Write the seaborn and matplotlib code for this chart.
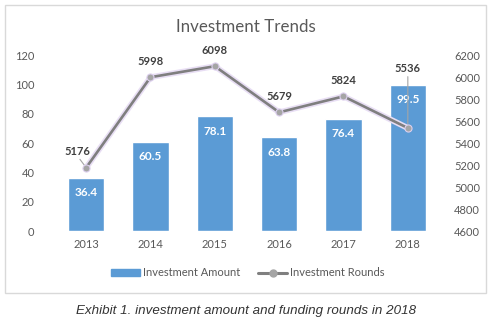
import matplotlib
matplotlib.use("Agg")
import matplotlib.pyplot as plt
import matplotlib.patheffects as pe
from matplotlib.patches import Rectangle
from matplotlib.lines import Line2D
import seaborn as sns
import pandas as pd

years = ["2013", "2014", "2015", "2016", "2017", "2018"]
amount = [36.4, 60.5, 78.1, 63.8, 76.4, 99.5]
rounds = [5176, 5998, 6098, 5679, 5824, 5536]
left_ticks = [0, 20, 40, 60, 80, 100, 120]
right_ticks = [4600, 4800, 5000, 5200, 5400, 5600, 5800, 6000, 6200]

sns.set_theme(style="white")
plt.rcParams['font.family'] = ['Lato', 'DejaVu Sans']

df = pd.DataFrame({"year": years, "amount": amount, "rounds": rounds})

fig = plt.figure(figsize=(4.91, 3.24), dpi=100)
fig.patches.append(Rectangle((5/491, 1-293/324), 481/491, 288/324, transform=fig.transFigure,
                             fill=False, edgecolor="#d9d9d9", linewidth=1.0))

ax = fig.add_axes([54/491, 1-231/324, 386/491, 176/324])
bar_c = "#5b9bd5"
sns.barplot(data=df, x="year", y="amount", color=bar_c, width=0.56, ax=ax, saturation=1)
ax.set_ylim(0, 120)
ax.set_yticks(left_ticks)
ax.set_xlim(-0.5, 5.5)
ax.set_xlabel("")
ax.set_ylabel("")
for s in ax.spines.values():
    s.set_visible(False)
ax.tick_params(axis="both", colors="#595959", labelsize=8, length=0)
ax.tick_params(axis="y", pad=14)
ax.tick_params(axis="x", pad=6)
for i, v in enumerate(amount):
    ax.annotate(f"{v}", (i, v), xytext=(0, -10.5), textcoords="offset points",
                ha="center", va="center", color="white", fontsize=8.5, fontweight="bold")

ax2 = ax.twinx()
line_c = "#7f7f7f"
mark_c = "#a5a5a5"
glow = [pe.Stroke(linewidth=4.2, foreground="#e8def4"), pe.Normal()]
x_pos = list(range(len(years)))
sns.lineplot(x=x_pos, y=rounds, ax=ax2, color=line_c, linewidth=1.9, path_effects=glow)
sns.scatterplot(x=x_pos, y=rounds, ax=ax2, color=mark_c, s=26, edgecolor="#ddd0ee",
                linewidth=0.8, zorder=5)
ax2.set_ylim(4600, 6200)
ax2.set_yticks(right_ticks)
ax2.set_xlim(-0.5, 5.5)
ax2.set_ylabel("")
ax2.grid(False)
for s in ax2.spines.values():
    s.set_visible(False)
ax2.tick_params(axis="y", colors="#595959", labelsize=8, length=0, pad=10)

for i, v in enumerate(rounds):
    if i == 0:
        ax2.annotate(f"{v}", (i, v), xytext=(-6, 11.5), textcoords="offset points",
                     ha="center", va="center", color="#404040", fontsize=8, fontweight="bold")
        ax2.annotate("", (i, v), xytext=(-4.5, 6), textcoords="offset points",
                     arrowprops=dict(arrowstyle="-", color="#a5a5a5", lw=0.8, shrinkA=0, shrinkB=2))
    elif i == 5:
        ax2.annotate(f"{v}", (i, v), xytext=(0, 43), textcoords="offset points",
                     ha="center", va="center", color="#404040", fontsize=8, fontweight="bold")
        ax2.annotate("", (i, v), xytext=(0, 37), textcoords="offset points",
                     arrowprops=dict(arrowstyle="-", color="#a5a5a5", lw=0.8, shrinkA=0, shrinkB=3))
    else:
        ax2.annotate(f"{v}", (i, v), xytext=(0, 11.5), textcoords="offset points",
                     ha="center", va="center", color="#404040", fontsize=8, fontweight="bold")

fig.text(246/491, 1-27/324, "Investment Trends", ha="center", va="center",
         fontsize=12.2, color="#595959")

handles = [Rectangle((0, 0), 1, 1, color=bar_c),
           Line2D([0], [0], color=line_c, linewidth=2.2, marker="o", markersize=5,
                  markerfacecolor=mark_c, markeredgecolor=mark_c)]
fig.legend(handles, ["Investment Amount", "Investment Rounds"], loc="center",
           bbox_to_anchor=(248/491, 1-273/324), ncol=2, frameon=False, fontsize=8,
           labelcolor="#595959", handlelength=2.6, handleheight=0.6, handletextpad=0.3,
           columnspacing=1.6)

fig.text(246/491, 1-311/324, "Exhibit 1. investment amount and funding rounds in 2018",
         ha="center", va="center", fontsize=9.6, style="italic", color="#333333",
         family="Liberation Sans")

fig.savefig("out.png", dpi=100)
